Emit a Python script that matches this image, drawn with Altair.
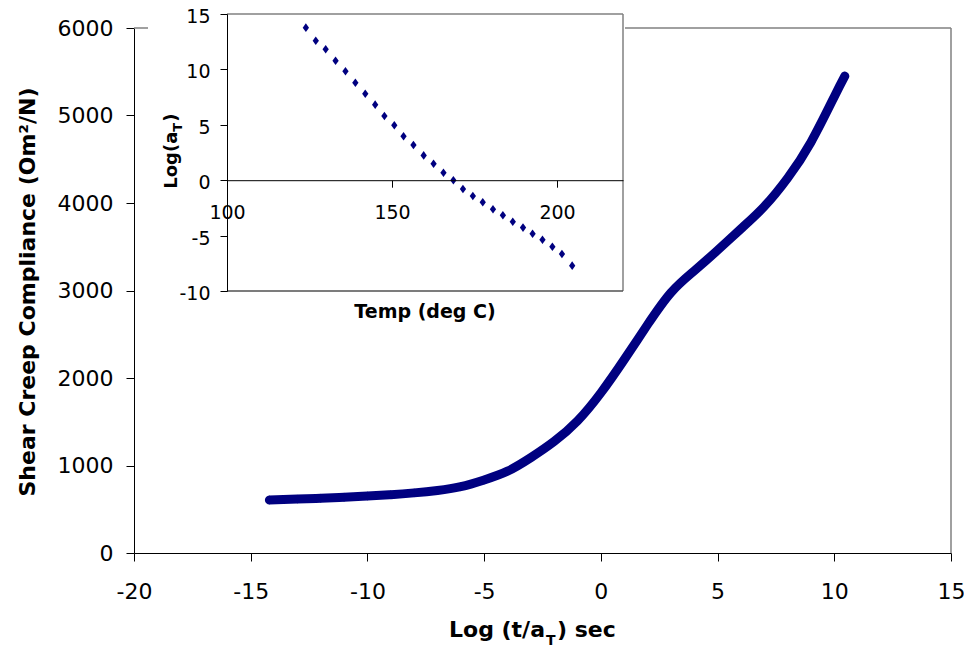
import altair as alt
import pandas as pd

# ---- main curve ----
main_logt = [-14.2, -13, -12, -11, -10, -9, -8, -7, -6, -5, -4, -3, -2, -1,
             0, 1, 2, 3, 4, 5, 6, 7, 8, 9, 10, 10.45]
main_comp = [606, 616, 625, 638, 652, 667, 687, 714, 758, 835, 935, 1090, 1275, 1510,
             1830, 2210, 2610, 2975, 3225, 3460, 3705, 3960, 4285, 4695, 5215, 5450]

# ---- inset shift factors ----
inset_temp = [123.9, 126.9, 129.9, 132.9, 135.9, 138.9, 141.9, 144.9, 147.7, 150.7,
              153.5, 156.5, 159.6, 162.6, 165.6, 168.6, 171.5, 174.5, 177.5, 180.6,
              183.6, 186.6, 189.7, 192.6, 195.6, 198.6, 201.5, 204.6]
inset_logat = [13.77, 12.59, 11.81, 10.79, 9.83, 8.80, 7.81, 6.82, 5.79, 4.95,
               3.96, 3.18, 2.24, 1.49, 0.68, 0.0, -0.79, -1.43, -2.0, -2.63,
               -3.17, -3.74, -4.28, -4.83, -5.37, -6.0, -6.66, -7.71]

main_x_ticks = [-20, -15, -10, -5, 0, 5, 10, 15]
main_y_ticks = [0, 1000, 2000, 3000, 4000, 5000, 6000]
inset_x_ticks = [100, 150, 200]
inset_y_ticks = [-10, -5, 0, 5, 10, 15]
main_x_domain = [-20, 15]
main_y_domain = [0, 6000]
inset_x_domain = [100, 220]
inset_y_domain = [-10, 15]

W, H = 817, 525
FONT = "DejaVu Sans"
NAVY = "#000080"
GRAY = "#808080"
DIAMOND = "M0,-1.15L0.85,0L0,1.15L-0.85,0Z"

main_df = pd.DataFrame({"x": main_logt, "y": main_comp})
inset_df = pd.DataFrame({"t": inset_temp, "a": inset_logat})
dummy = pd.DataFrame({"v": [0]})

# ---------- main panel ----------
xs_main = alt.Scale(domain=main_x_domain, nice=False, zero=False)
ys_main = alt.Scale(domain=main_y_domain, nice=False, zero=False)
ax_main_x = alt.Axis(values=main_x_ticks, grid=False, title=None, labelFont=FONT,
                     labelFontSize=22, labelColor="black", tickColor="black",
                     domainColor="black", tickSize=8, labelPadding=20,
                     labelExpr="datum.value + ''", labelFlush=False, labelOverlap=False)
ax_main_y = alt.Axis(values=main_y_ticks, grid=False, title=None, labelFont=FONT,
                     labelFontSize=22, labelColor="black", tickColor="black",
                     domainColor="black", tickSize=8, labelPadding=13, format="d",
                     labelFlush=False, labelOverlap=False)

main_frame_df = pd.DataFrame({
    "x": [main_x_domain[0], main_x_domain[1]],
    "x2": [main_x_domain[1], main_x_domain[1]],
    "y": [main_y_domain[1], main_y_domain[0]],
    "y2": [main_y_domain[1], main_y_domain[1]],
})
main_frame = alt.Chart(main_frame_df).mark_rule(color=GRAY, strokeWidth=1.5).encode(
    x=alt.X("x:Q", scale=xs_main, axis=ax_main_x), x2="x2:Q",
    y=alt.Y("y:Q", scale=ys_main, axis=ax_main_y), y2="y2:Q")

base_main = alt.Chart(main_df).encode(
    x=alt.X("x:Q", scale=xs_main, axis=ax_main_x),
    y=alt.Y("y:Q", scale=ys_main, axis=ax_main_y))
main_line = base_main.mark_line(color=NAVY, strokeWidth=9, interpolate="natural",
                                strokeCap="round", strokeJoin="round")
main_pts = base_main.mark_point(shape="diamond", filled=True, size=80, color=NAVY,
                                opacity=1, strokeWidth=0)
main_layer = alt.layer(main_frame, main_line, main_pts)

# ---------- inset background ----------
bg = alt.Chart(dummy).mark_rect(color="white").encode(
    x=alt.value(14), x2=alt.value(491), y=alt.value(-28), y2=alt.value(307))

# ---------- inset panel ----------
xs_in = alt.Scale(domain=inset_x_domain, range=[93, 489], nice=False, zero=False)
ys_in = alt.Scale(domain=inset_y_domain, range=[263, -14], nice=False, zero=False)
ax_in_x = alt.Axis(values=inset_x_ticks, orient="bottom", offset=-372.8, grid=False,
                   title=None, labelFont=FONT, labelFontSize=19, labelColor="black",
                   tickColor="black", domainColor="black", tickSize=7, labelPadding=16,
                   zindex=2, labelFlush=False, labelOverlap=False, format="d")
ax_in_y = alt.Axis(values=inset_y_ticks, orient="left", offset=-93, grid=False,
                   title=None, labelFont=FONT, labelFontSize=19, labelColor="black",
                   tickColor="black", domainColor="black", tickSize=7, labelPadding=10,
                   zindex=2, labelFlush=False, labelOverlap=False, labelOffset=2.5,
                   labelExpr="datum.value + ''")

inset_frame_df = pd.DataFrame({
    "t": [inset_x_domain[0], inset_x_domain[1], inset_x_domain[0]],
    "t2": [inset_x_domain[1], inset_x_domain[1], inset_x_domain[1]],
    "a": [inset_y_domain[1], inset_y_domain[0], inset_y_domain[0]],
    "a2": [inset_y_domain[1], inset_y_domain[1], inset_y_domain[0]],
    "c": [GRAY, GRAY, "#505050"],
})
inset_frame = alt.Chart(inset_frame_df).mark_rule(strokeWidth=1.5).encode(
    x=alt.X("t:Q", scale=xs_in, axis=ax_in_x), x2="t2:Q",
    y=alt.Y("a:Q", scale=ys_in, axis=ax_in_y), y2="a2:Q",
    color=alt.Color("c:N", scale=None))
inset_pts = alt.Chart(inset_df).mark_point(shape=DIAMOND, filled=True, size=55,
                                           color=NAVY, opacity=1, strokeWidth=0).encode(
    x=alt.X("t:Q", scale=xs_in, axis=ax_in_x),
    y=alt.Y("a:Q", scale=ys_in, axis=ax_in_y))
inset_layer = alt.layer(inset_frame, inset_pts)

# ---------- titles ----------
def txt(text, x, y, size, align="left", baseline="alphabetic", angle=0, weight="bold"):
    kw = dict(text=text, font=FONT, fontSize=size, fontWeight=weight, align=align,
              baseline=baseline, color="black")
    if angle:
        kw["angle"] = angle
    return alt.Chart(dummy).mark_text(**kw).encode(x=alt.value(x), y=alt.value(y))

titles = [
    txt("Shear Creep Compliance (Om\u00b2/N)", -99, 264, 22, align="center", angle=270),
    txt("Log (t/a", 411, 609, 22, align="right"),
    txt("T", 412, 617, 14, align="left"),
    txt(") sec", 423, 609, 22, align="left"),
    txt("Temp (deg C)", 291, 290, 19, align="center"),
    txt("Log(a", 42.7, 103.7, 18, align="right", angle=270),
    txt("T", 47.7, 103.7, 13, align="left", angle=270),
    txt(")", 42.7, 93.7, 18, align="left", angle=270),
]

chart = alt.layer(main_layer, bg, inset_layer, *titles).resolve_scale(
    x="independent", y="independent").resolve_axis(
    x="independent", y="independent").properties(
    width=W, height=H,
    padding={"left": 126, "top": 20, "right": 13, "bottom": 96},
    autosize=alt.AutoSizeParams(type="none"),
    background="white",
).configure_view(strokeWidth=0)

chart.save("out.html", embed_options={"renderer": "svg", "actions": False})
